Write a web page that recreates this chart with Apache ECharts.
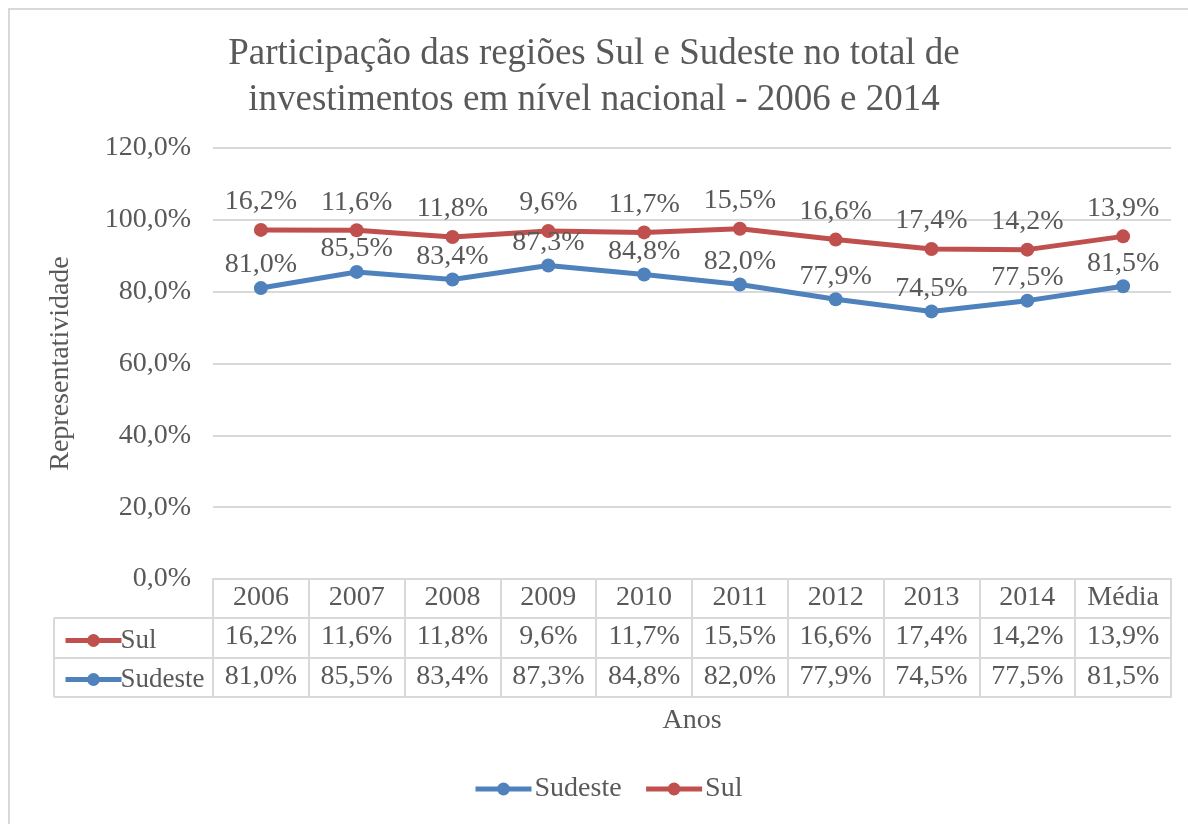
<!DOCTYPE html>
<html>
<head>
<meta charset="utf-8">
<script src="https://cdn.jsdelivr.net/npm/echarts@6/dist/echarts.min.js"></script>
<style>
  html, body { margin: 0; padding: 0; background: #fff; }
  #chart { width: 1188px; height: 824px; }
</style>
</head>
<body>
<div id="chart"></div>
<script>
const anos = ['2006', '2007', '2008', '2009', '2010', '2011', '2012', '2013', '2014', 'Média']
const sul = [16.2, 11.6, 11.8, 9.6, 11.7, 15.5, 16.6, 17.4, 14.2, 13.9]
const sudeste = [81.0, 85.5, 83.4, 87.3, 84.8, 82.0, 77.9, 74.5, 77.5, 81.5]

const font = 'Liberation Serif'
const textColor = '#595959'
const lineColor = '#d9d9d9'
const fs = 28
const fmt = (v) => v.toFixed(1).replace('.', ',') + '%'

const chart = echarts.init(document.getElementById('chart'))

const tableAxis = (labels, offset, extra) => Object.assign({
  type: 'category',
  gridIndex: 0,
  position: 'bottom',
  offset: offset,
  data: labels,
  axisLine: { show: true, lineStyle: { color: lineColor, width: 2 } },
  axisTick: { show: false },
  axisLabel: { color: textColor, fontFamily: font, fontSize: fs, margin: 5, interval: 0 },
  splitLine: { show: false }
}, extra || {})

const seriesLabel = {
  show: true,
  position: 'top',
  distance: 2,
  color: textColor,
  fontFamily: font,
  fontSize: fs,
  formatter: (p) => fmt(p.value)
}

// legenda dentro da tabela (mesmo visual das linhas)
const tableLegend = (name, top) => ({
  data: [name],
  left: 58,
  top: top,
  itemWidth: 56,
  itemHeight: 16,
  itemGap: 2,
  selectedMode: false,
  lineStyle: { width: 5 },
  textStyle: { color: textColor, fontFamily: font, fontSize: 27, padding: [0, 0, 0, -6] }
})

chart.setOption({
  animation: false,
  textStyle: { fontFamily: font },
  title: {
    text: 'Participação das regiões Sul e Sudeste no total de\ninvestimentos em nível nacional - 2006 e 2014',
    left: 'center',
    top: 26,
    textStyle: { color: textColor, fontFamily: font, fontSize: 37, fontWeight: 'normal', lineHeight: 46 }
  },
  legend: [
    {
      data: ['Sudeste', 'Sul'],
      bottom: 16,
      left: 468,
      itemWidth: 56,
      itemHeight: 16,
      itemGap: 22,
      selectedMode: false,
      lineStyle: { width: 5 },
      textStyle: { color: textColor, fontFamily: font, fontSize: fs, padding: [0, 0, 0, -2] }
    },
    tableLegend('Sul', 622),
    tableLegend('Sudeste', 661)
  ],
  grid: { left: 213, right: 17, top: 148, bottom: 245 },
  xAxis: [
    tableAxis(anos, 0, {
      axisTick: { show: true, interval: 0, length: 118, lineStyle: { color: lineColor, width: 2 } }
    }),
    tableAxis(sul.map(fmt), 39),
    tableAxis(sudeste.map(fmt), 79),
    tableAxis(anos, 118, {
      axisLabel: { show: false },
      name: 'Anos',
      nameLocation: 'middle',
      nameGap: 10,
      nameTextStyle: { color: textColor, fontFamily: font, fontSize: fs, verticalAlign: 'top' }
    })
  ],
  yAxis: {
    type: 'value',
    min: 0,
    max: 120,
    interval: 20,
    axisLine: { show: false },
    axisTick: { show: false },
    axisLabel: { color: textColor, fontFamily: font, fontSize: fs, margin: 22, formatter: (v) => fmt(v) },
    splitLine: { lineStyle: { color: lineColor, width: 2 } },
    name: 'Representatividade',
    nameLocation: 'middle',
    nameGap: 138,
    nameTextStyle: { color: textColor, fontFamily: font, fontSize: fs }
  },
  series: [
    {
      name: 'Sudeste',
      type: 'line',
      stack: 'total',
      data: sudeste,
      symbol: 'circle',
      symbolSize: 14,
      color: '#4f81bd',
      lineStyle: { width: 5 },
      label: seriesLabel
    },
    {
      name: 'Sul',
      type: 'line',
      stack: 'total',
      data: sul,
      symbol: 'circle',
      symbolSize: 14,
      color: '#c0504d',
      lineStyle: { width: 5 },
      label: Object.assign({}, seriesLabel, { distance: 7 })
    }
  ],
  graphic: [
    { type: 'rect', shape: { x: 9, y: 9, width: 1200, height: 840 }, style: { fill: 'none', stroke: lineColor, lineWidth: 2 }, silent: true },
    { type: 'line', shape: { x1: 54, y1: 618, x2: 213, y2: 618 }, style: { stroke: lineColor, lineWidth: 2 }, silent: true },
    { type: 'line', shape: { x1: 54, y1: 658, x2: 213, y2: 658 }, style: { stroke: lineColor, lineWidth: 2 }, silent: true },
    { type: 'line', shape: { x1: 54, y1: 697, x2: 213, y2: 697 }, style: { stroke: lineColor, lineWidth: 2 }, silent: true },
    { type: 'line', shape: { x1: 54, y1: 618, x2: 54, y2: 697 }, style: { stroke: lineColor, lineWidth: 2 }, silent: true }
  ]
})
</script>
</body>
</html>
